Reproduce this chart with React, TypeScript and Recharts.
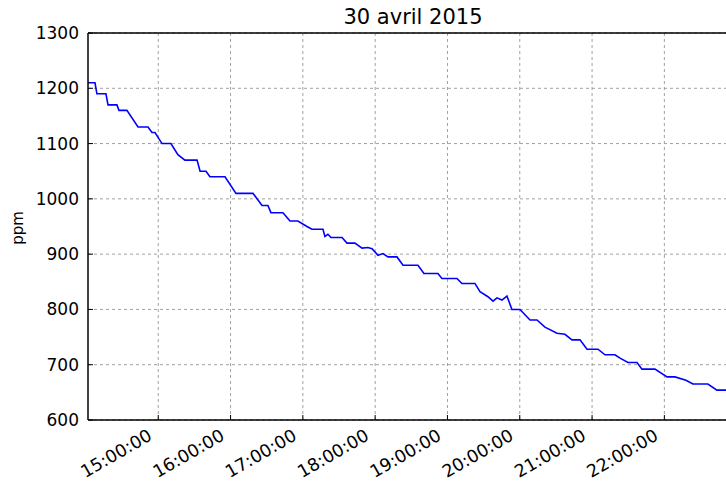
import { CartesianGrid, Line, LineChart, ReferenceLine, XAxis, YAxis } from "recharts";

// minutes since midnight
const minutes = [
  841.7, 847.5, 849.1, 856.6, 858.3, 865.7, 867.4, 874.0, 883.2, 891.5,
  894.8, 897.3, 903.1, 910.5, 916.3, 922.1, 932.2, 934.7, 939.6, 942.9,
  955.4, 964.5, 978.6, 986.1, 991.0, 993.5, 1003.5, 1009.3, 1015.9, 1023.4,
  1027.6, 1036.7, 1038.3, 1040.8, 1043.3, 1052.5, 1056.6, 1063.2, 1069.1, 1074.0,
  1077.4, 1082.3, 1086.5, 1090.6, 1098.1, 1103.1, 1115.5, 1120.5, 1132.1, 1135.4,
  1147.9, 1152.0, 1162.8, 1167.0, 1173.6, 1177.8, 1181.1, 1185.2, 1189.4, 1193.5,
  1200.2, 1208.5, 1214.3, 1220.9, 1230.9, 1237.5, 1243.3, 1250.0, 1255.8, 1264.9,
  1270.7, 1279.0, 1283.2, 1289.8, 1297.3, 1301.4, 1312.2, 1322.2, 1328.8, 1337.9,
  1343.7, 1356.1, 1363.6, 1375.0,
];

const ppm = [
  1210, 1210, 1190, 1190, 1170, 1170, 1160, 1160, 1130, 1130,
  1120, 1120, 1100, 1100, 1080, 1070, 1070, 1050, 1050, 1040,
  1040, 1010, 1010, 988, 988, 975, 975, 960, 960, 950,
  945, 945, 932, 936, 930, 930, 920, 920, 911, 912,
  910, 898, 901, 895, 895, 880, 880, 865, 865, 856,
  856, 847, 847, 832, 823, 815, 821, 817, 824, 800,
  800, 781, 781, 768, 757, 755, 745, 745, 728, 728,
  718, 718, 712, 704, 704, 692, 692, 678, 678, 672,
  665, 665, 654, 654,
];

const xTicks = [900, 960, 1020, 1080, 1140, 1200, 1260, 1320];
const yTicks = [600, 700, 800, 900, 1000, 1100, 1200, 1300];

const data = minutes.map((t, i) => ({ t, ppm: ppm[i] }));

const pad = (n: number) => String(n).padStart(2, "0");
const fmtTime = (m: number) => `${pad(Math.floor(m / 60))}:${pad(Math.round(m % 60))}:00`;

const font = "DejaVu Sans, sans-serif";

// rotated label, end of baseline just left of the tick
function XTick({ x, y, payload }: any) {
  const tx = x - 5;
  const ty = y + 19;
  return (
    <text
      x={tx}
      y={ty}
      transform={`rotate(-30 ${tx} ${ty})`}
      textAnchor="end"
      fontSize={17.5}
      fill="#000"
      fontFamily={font}
    >
      {fmtTime(payload.value)}
    </text>
  );
}

export default function App() {
  return (
    <div
      style={{
        position: "fixed",
        left: 0,
        top: 0,
        width: 726,
        height: 481,
        overflow: "hidden",
        background: "#fff",
        fontFamily: font,
      }}
    >
      <div
        style={{
          position: "absolute",
          top: 7,
          left: 88,
          width: 650,
          textAlign: "center",
          fontSize: 21,
          lineHeight: "21px",
          color: "#000",
        }}
      >
        30 avril 2015
      </div>
      <LineChart width={740} height={481} data={data} margin={{ top: 33, right: 2, bottom: 0, left: 0 }}>
        <CartesianGrid stroke="#a0a0a0" strokeDasharray="3 3" verticalValues={xTicks} horizontalValues={yTicks} />
        <XAxis
          dataKey="t"
          type="number"
          domain={[841.7, 1381.1]}
          ticks={xTicks}
          allowDataOverflow
          axisLine={{ stroke: "#000", strokeWidth: 1.5 }}
          tickLine={{ stroke: "#000" }}
          tickSize={-5}
          tickMargin={5}
          height={61}
          tick={<XTick />}
        />
        <XAxis
          xAxisId="top"
          orientation="top"
          dataKey="t"
          type="number"
          domain={[841.7, 1381.1]}
          ticks={xTicks}
          allowDataOverflow
          axisLine={{ stroke: "#000", strokeWidth: 1.5 }}
          tickLine={{ stroke: "#000" }}
          tickSize={-5}
          tickFormatter={() => ""}
          height={0}
        />
        <YAxis
          type="number"
          domain={[600, 1300]}
          ticks={yTicks}
          width={88}
          axisLine={{ stroke: "#000", strokeWidth: 1.5 }}
          tickLine={{ stroke: "#000" }}
          tickSize={-5}
          tickMargin={14}
          tick={{ fontSize: 17, fill: "#000", fontFamily: font }}
          label={{
            content: () => (
              <text
                x={23}
                y={228}
                transform="rotate(-90 23 228)"
                textAnchor="middle"
                fontSize={15}
                fill="#000"
                fontFamily={font}
              >
                ppm
              </text>
            ),
          }}
        />
        <ReferenceLine y={1300} stroke="#000" strokeWidth={1.5} />
        <Line
          type="linear"
          dataKey="ppm"
          stroke="#0000ff"
          strokeWidth={1.6}
          dot={false}
          isAnimationActive={false}
        />
      </LineChart>
    </div>
  );
}
